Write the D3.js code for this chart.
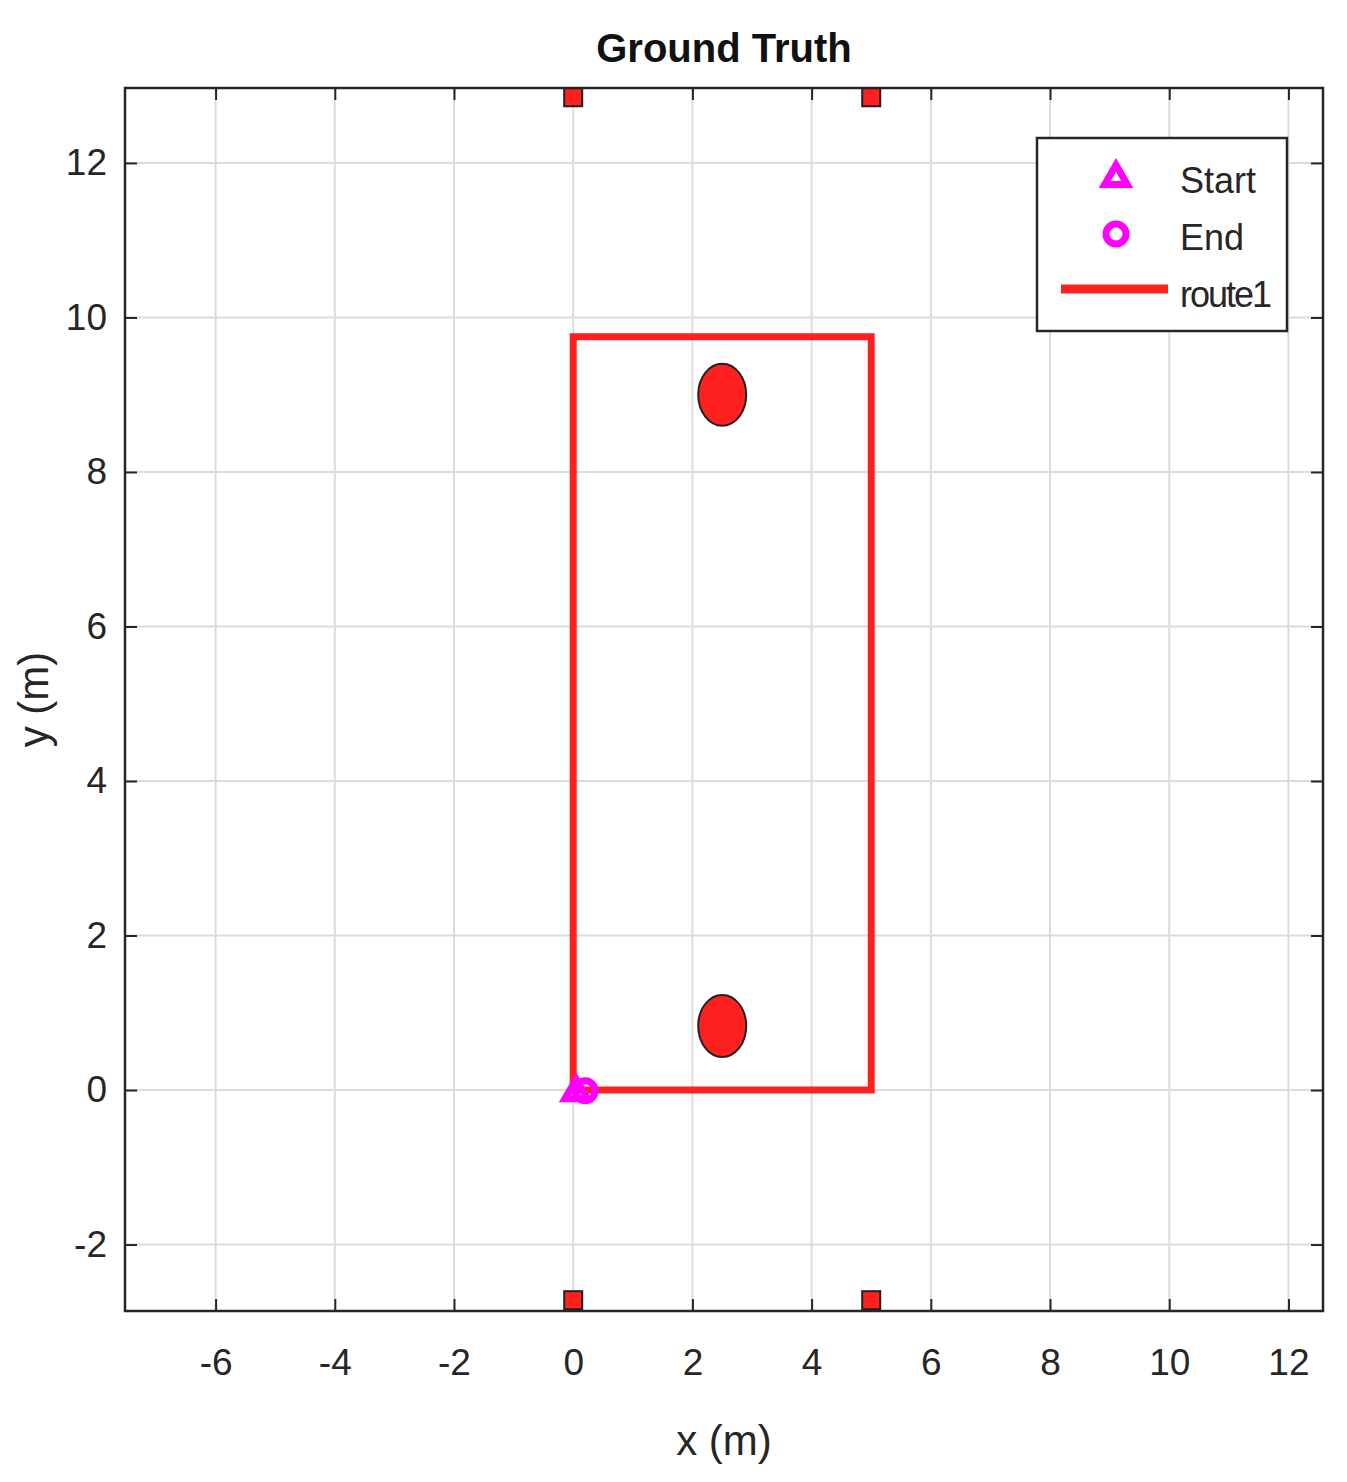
<!DOCTYPE html>
<html><head><meta charset="utf-8">
<script src="https://d3js.org/d3.v7.min.js"></script>
<style>body{margin:0;background:#fff}text{font-family:"Liberation Sans",Arial,sans-serif}</style>
</head><body>
<script>
const xTicks = [-6,-4,-2,0,2,4,6,8,10,12];
const yTicks = [-2,0,2,4,6,8,10,12];
const route = [[0,0],[5,0],[5,9.75],[0,9.75],[0,0]];
const anchors = [[0,12.85],[5,12.85],[0,-2.72],[5,-2.72]];
const obstacles = [[2.5,9.0],[2.5,0.83]];
const startPt = [0.05,-0.03];
const endPt = [0.2,-0.01];

const width = 1347, height = 1482;
const L = 125, R = 1323, T = 88, B = 1311;

const svg = d3.select('body').append('svg').attr('width', width).attr('height', height);
const x = d3.scaleLinear().domain([-7.52, 12.58]).range([L, R]);
const y = d3.scaleLinear().domain([-2.86, 12.97]).range([B, T]);
const fmt = d => String(d);

// grid
svg.append('g').selectAll('line').data(xTicks).enter().append('line')
  .attr('x1', d => x(d)).attr('x2', d => x(d)).attr('y1', T).attr('y2', B)
  .attr('stroke', '#dcdcdc').attr('stroke-width', 2);
svg.append('g').selectAll('line').data(yTicks).enter().append('line')
  .attr('y1', d => y(d)).attr('y2', d => y(d)).attr('x1', L).attr('x2', R)
  .attr('stroke', '#dcdcdc').attr('stroke-width', 2);

// axes, ticks inward
const tl = 12;
function styleAxis(g){ g.select('.domain').remove(); g.selectAll('line').attr('stroke','#262626').attr('stroke-width',2);
  g.selectAll('text').attr('font-size', 37).attr('fill', '#262626'); }
svg.append('g').attr('transform', `translate(0,${B})`)
  .call(d3.axisBottom(x).tickValues(xTicks).tickFormat(fmt).tickSizeInner(-tl).tickSizeOuter(0).tickPadding(38))
  .call(styleAxis);
svg.append('g').attr('transform', `translate(0,${T})`)
  .call(d3.axisTop(x).tickValues(xTicks).tickSizeInner(-tl).tickSizeOuter(0).tickFormat(''))
  .call(styleAxis);
svg.append('g').attr('transform', `translate(${L},0)`)
  .call(d3.axisLeft(y).tickValues(yTicks).tickFormat(fmt).tickSizeInner(-tl).tickSizeOuter(0).tickPadding(18))
  .call(styleAxis);
svg.append('g').attr('transform', `translate(${R},0)`)
  .call(d3.axisRight(y).tickValues(yTicks).tickSizeInner(-tl).tickSizeOuter(0).tickFormat(''))
  .call(styleAxis);
svg.append('rect').attr('x', L).attr('y', T).attr('width', R - L).attr('height', B - T)
  .attr('fill', 'none').attr('stroke', '#262626').attr('stroke-width', 2.5);

// route
svg.append('path').datum(route)
  .attr('d', d3.line().x(d => x(d[0])).y(d => y(d[1])))
  .attr('fill', 'none').attr('stroke', '#ff2020').attr('stroke-width', 7);

// obstacles
svg.selectAll('ellipse.obs').data(obstacles).enter().append('ellipse')
  .attr('cx', d => x(d[0])).attr('cy', d => y(d[1])).attr('rx', 24).attr('ry', 31)
  .attr('fill', '#ff2020').attr('stroke', '#222').attr('stroke-width', 2);

// anchors
svg.selectAll('rect.anc').data(anchors).enter().append('rect')
  .attr('x', d => x(d[0]) - 9).attr('y', d => y(d[1]) - 9).attr('width', 18).attr('height', 18)
  .attr('fill', '#ff2020').attr('stroke', '#222').attr('stroke-width', 2);

// start / end
const tri = d3.symbol().type(d3.symbolTriangle).size(220);
svg.append('path').attr('d', tri()).attr('transform', `translate(${x(startPt[0])},${y(startPt[1])})`)
  .attr('fill', 'none').attr('stroke', '#ff00ff').attr('stroke-width', 7);
svg.append('circle').attr('cx', x(endPt[0])).attr('cy', y(endPt[1])).attr('r', 10)
  .attr('fill', 'none').attr('stroke', '#ff00ff').attr('stroke-width', 7);

// legend
const lg = svg.append('g');
lg.append('rect').attr('x', 1037).attr('y', 138).attr('width', 250).attr('height', 193)
  .attr('fill', '#fff').attr('stroke', '#262626').attr('stroke-width', 2.5);
lg.append('path').attr('d', tri()).attr('transform', 'translate(1116,178)')
  .attr('fill', 'none').attr('stroke', '#ff00ff').attr('stroke-width', 7);
lg.append('circle').attr('cx', 1116).attr('cy', 234).attr('r', 10)
  .attr('fill', 'none').attr('stroke', '#ff00ff').attr('stroke-width', 7);
lg.append('line').attr('x1', 1061).attr('x2', 1168).attr('y1', 289).attr('y2', 289)
  .attr('stroke', '#ff2020').attr('stroke-width', 9);
const labels = [['Start',180],['End',237],['route1',294]];
lg.selectAll('text').data(labels).enter().append('text')
  .attr('x', 1180).attr('y', d => d[1]).attr('dy', '0.35em')
  .attr('font-size', 36).attr('textLength', d => d[0] === 'route1' ? 92 : null)
  .attr('fill', '#262626').text(d => d[0]);

// titles
svg.append('text').attr('x', (L + R) / 2).attr('y', 62).attr('text-anchor', 'middle')
  .attr('font-size', 40).attr('font-weight', 'bold').attr('fill', '#111').text('Ground Truth');
svg.append('text').attr('x', (L + R) / 2).attr('y', 1455).attr('text-anchor', 'middle')
  .attr('font-size', 42).attr('fill', '#262626').text('x (m)');
svg.append('text').attr('transform', `translate(48,${(T + B) / 2}) rotate(-90)`).attr('text-anchor', 'middle')
  .attr('font-size', 42).attr('fill', '#262626').text('y (m)');
</script>
</body></html>
